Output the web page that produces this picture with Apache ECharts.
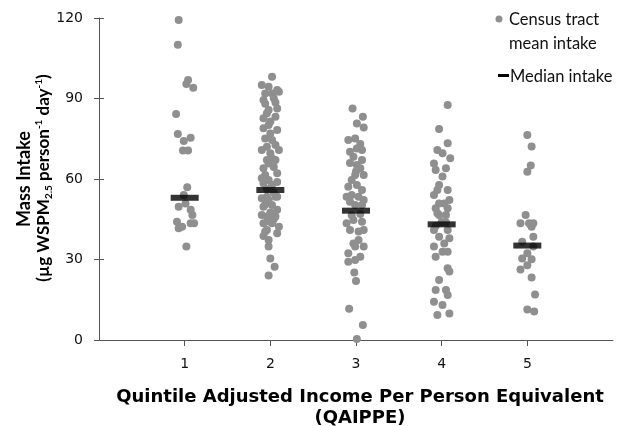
<!DOCTYPE html>
<html lang="en">
<head>
<meta charset="UTF-8">
<title>Mass intake by QAIPPE</title>
<script src="https://cdn.jsdelivr.net/npm/echarts@6.0.0/dist/echarts.min.js"></script>
<style>
  body { margin: 0; background: #fff; }
  #chart { width: 618px; height: 426px; }
</style>
</head>
<body>
<div id="chart"></div>
<script>
// quintile positions on the x axis, and the median intake per quintile
var quintiles = [1, 2, 3, 4, 5];
var medians = [53.0, 55.9, 48.2, 43.1, 35.2];
var yTicks = [0, 30, 60, 90, 120];

// census tract means: [jittered quintile position, intake]
var q1 = [[0.93,119.3],[0.92,110],[1.04,96.9],[1.10,94],[1.02,95.4],[0.90,84.2],[0.92,76.8],[0.99,74.2],[1.07,75.4],
  [0.98,70.6],[1.04,70.6],[1.03,56.9],[0.99,54],[0.93,49.7],[1.01,50.9],[1.07,48.5],[1.09,46.6],[0.91,44.1],
  [0.97,42.2],[1.07,43.5],[1.11,43.5],[0.93,41.6],[1.02,34.8]];
var q2 = [[2.02,98.1],[1.90,95],[1.98,94.4],[2.08,93.2],[1.94,91.9],[2.02,91.9],[2.10,92.5],[1.92,89.4],[2.04,90.1],
  [1.94,88],[2.06,88.5],[1.98,85.7],[2.08,86.3],[1.96,84.5],[2.06,83.2],[1.92,82.6],[2.0,81.4],[1.98,80.1],
  [2.08,78.3],[1.92,78.9],[2.0,77],[1.94,75.1],[2.02,74.5],[2.06,72.7],[1.96,72],[1.90,70.8],[2.10,70.8],
  [2.0,69.6],[2.02,67.7],[1.98,65.8],[1.96,67.1],[2.06,67.1],[2.04,64.5],[1.92,64],[1.94,61.5],[2.08,62.1],
  [1.90,60.3],[1.98,59.6],[2.08,58.9],[2.02,57.8],[1.92,58.4],[1.96,56.3],[2.04,55],[1.96,53.4],[2.06,53.4],
  [1.90,52.8],[1.98,52.2],[2.08,53.4],[1.94,50.5],[1.92,49.7],[2.02,50.3],[2.08,48.5],[2.0,47.5],[1.90,46.6],
  [1.96,46],[2.06,46],[2.04,45],[1.98,44.2],[1.92,43.5],[2.02,43.5],[2.10,42.2],[1.96,41],[1.94,40.4],
  [2.08,39.8],[1.92,38.8],[1.98,37.3],[1.98,34.8],[2.0,30.4],[2.05,27.3],[1.98,24]];
var q3 = [[2.96,86.3],[3.08,83.2],[3.01,80.7],[3.09,79.2],[2.91,74.5],[2.99,75.1],[3.05,73],[2.93,70.2],[3.01,71.4],
  [3.07,70.8],[2.97,68.3],[3.07,67.1],[2.93,66],[3.01,65.2],[3.05,64],[3.0,62.8],[2.99,61.5],[3.09,61.5],
  [2.95,59.6],[2.91,57.1],[3.01,57.8],[3.07,55.9],[2.95,54],[2.89,53.4],[3.03,53.4],[3.09,52.2],[2.93,51.5],
  [2.99,50.3],[3.07,50.3],[2.95,46.5],[3.05,47],[2.89,43.5],[2.97,44.7],[3.07,44.1],[2.93,41],[3.03,40.4],
  [3.09,41],[2.97,36],[3.03,37.3],[2.99,34.8],[3.09,34.8],[2.91,32.3],[3.05,31],[2.91,29.2],[2.99,29.8],
  [2.98,25.2],[3.0,22],[2.92,11.6],[3.08,5.6],[3.01,0.4]];
var q4 = [[4.07,87.6],[3.97,78.6],[4.07,73.3],[3.95,70.8],[4.01,69.6],[4.10,67.7],[3.91,65.8],[3.93,63.4],[4.05,64],
  [4.01,60.9],[3.97,57.8],[4.07,55.9],[3.95,55.9],[3.91,54],[4.09,52.2],[3.97,50.9],[4.03,50.9],[3.93,49.1],
  [4.07,49.1],[3.97,46.6],[4.05,46.6],[3.95,47.2],[4.0,44],[3.93,42.5],[4.05,43.8],[3.91,41],[4.07,41],
  [3.97,38.5],[4.09,37.9],[4.03,36],[3.91,34.8],[4.01,32.9],[4.07,32.9],[3.93,31],[4.07,26.7],[4.09,25.5],
  [3.97,22.4],[3.93,18.6],[4.05,18.6],[4.07,16.8],[3.91,14.3],[4.01,13],[3.95,9.3],[4.09,9.9]];
var q5 = [[5.0,76.4],[5.05,72.1],[5.04,65],[5.0,62.7],[4.98,46.6],[4.92,43.5],[5.02,43.5],[5.07,43.5],[5.05,42.2],
  [5.04,42.9],[5.07,38.5],[4.94,36.6],[5.07,34.8],[5.0,32.3],[4.94,30.4],[5.05,30.1],[4.92,26.3],[5.0,27.9],
  [5.05,23.3],[5.09,17],[5.0,11.4],[5.08,10.6]];

var FONT = 'Lato, "DejaVu Sans", sans-serif';
var WIDE = '"DejaVu Sans", sans-serif';
var chart = echarts.init(document.getElementById('chart'));

var tracts = [].concat(q1, q2, q3, q4, q5);
var medianPts = quintiles.map(function (q, i) { return [q, medians[i]]; });

var option = {
    animation: false,
    backgroundColor: '#fff',
    grid: { left: 99, right: 5, top: 18, bottom: 86 },
    xAxis: {
        type: 'value', min: 0, max: 6, interval: 1,
        axisLine: { show: true, lineStyle: { color: '#555', width: 1 } },
        axisTick: { show: true, length: 6, lineStyle: { color: '#555' }, customValues: quintiles },
        axisLabel: { fontFamily: WIDE, fontSize: 14, color: '#111', margin: 17, customValues: quintiles },
        splitLine: { show: false }
    },
    yAxis: [{
        type: 'value', min: 0, max: 120, interval: 30,
        axisLine: { show: true, lineStyle: { color: '#555', width: 1 } },
        axisTick: { show: true, length: 5, lineStyle: { color: '#555' } },
        axisLabel: { fontFamily: WIDE, fontSize: 14, color: '#111', margin: 16, customValues: yTicks },
        splitLine: { show: false }
    }, {
        type: 'value', min: 0, max: 120, interval: 30, position: 'left',
        axisLine: { show: false },
        axisTick: { show: true, inside: true, length: 5, lineStyle: { color: '#555' } },
        axisLabel: { show: false },
        splitLine: { show: false }
    }],
    series: [{
        name: 'Census tract mean intake',
        type: 'scatter',
        data: tracts,
        symbol: 'circle',
        symbolSize: 8,
        itemStyle: { color: '#8f8f8f', opacity: 1 },
        z: 2
    }, {
        name: 'Median intake',
        type: 'scatter',
        data: medianPts,
        symbol: 'rect',
        symbolSize: [28, 6],
        itemStyle: { color: '#000' },
        z: 3
    }],
    graphic: [
        // legend
        { type: 'circle', shape: { cx: 499, cy: 19, r: 3.5 }, style: { fill: '#8f8f8f' } },
        { type: 'text', x: 509, y: 20, style: { text: 'Census tract', font: '16.5px ' + FONT, fill: '#111', textVerticalAlign: 'middle' } },
        { type: 'text', x: 509, y: 44, style: { text: 'mean intake', font: '16.5px ' + FONT, fill: '#111', textVerticalAlign: 'middle' } },
        { type: 'rect', shape: { x: 498, y: 74, width: 11, height: 3 }, style: { fill: '#000' } },
        { type: 'text', x: 510, y: 77, style: { text: 'Median intake', font: '16.5px ' + FONT, fill: '#111', textVerticalAlign: 'middle' } },
        // y axis title
        { type: 'text', x: 24, y: 179, rotation: Math.PI / 2,
          style: { text: 'Mass Intake', font: 'bold 18px ' + FONT, fill: '#000', textAlign: 'center', textVerticalAlign: 'middle' } },
        { type: 'text', x: 44, y: 178, rotation: Math.PI / 2,
          style: {
              text: '(µg WSPM{sub|2.5} person{sup|-1} day{sup|-1})',
              font: 'bold 17px ' + FONT, fill: '#000', textAlign: 'center', textVerticalAlign: 'middle',
              lineHeight: 20,
              rich: {
                  sub: { fontSize: 10, fontWeight: 'bold', fontFamily: FONT, verticalAlign: 'bottom', lineHeight: 20 },
                  sup: { fontSize: 10, fontWeight: 'bold', fontFamily: FONT, verticalAlign: 'top', lineHeight: 20 }
              }
          } },
        // x axis title
        { type: 'text', x: 360, y: 397, style: { text: 'Quintile Adjusted Income Per Person Equivalent', font: 'bold 18px ' + WIDE, fill: '#000', textAlign: 'center', textVerticalAlign: 'middle' } },
        { type: 'text', x: 360, y: 418, style: { text: '(QAIPPE)', font: 'bold 18px ' + WIDE, fill: '#000', textAlign: 'center', textVerticalAlign: 'middle' } }
    ]
};

chart.setOption(option);
</script>
</body>
</html>
